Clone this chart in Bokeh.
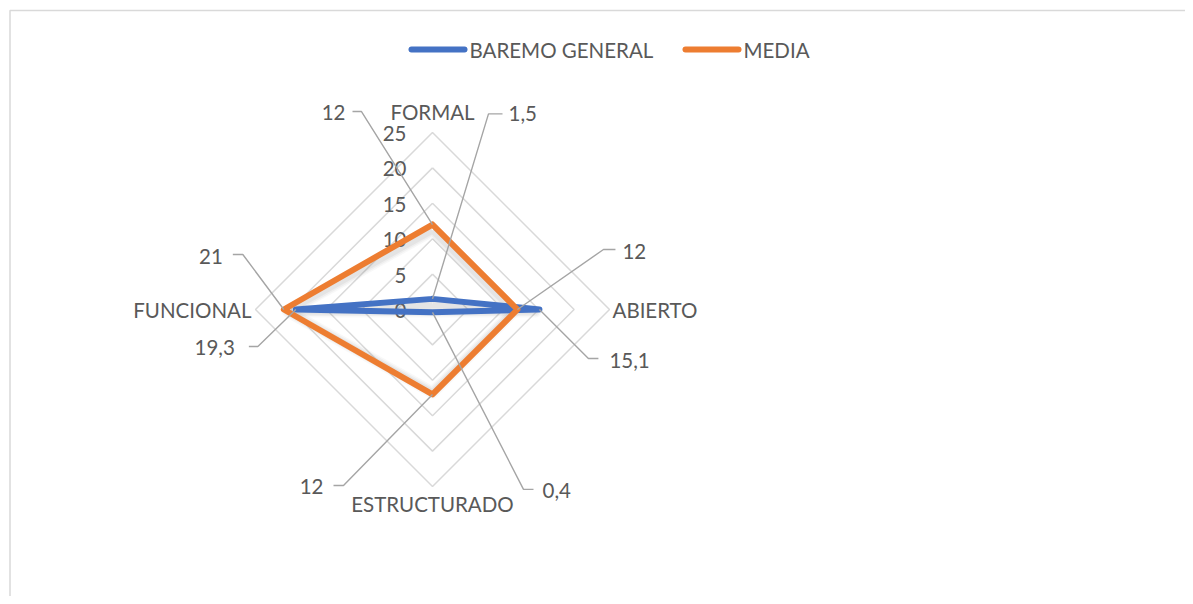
import numpy as np
from bokeh.plotting import figure
from bokeh.models import Range1d, ColumnDataSource
from bokeh.embed import file_html
from bokeh.resources import INLINE
from bokeh.core.properties import value

# ---------------- data ----------------
categories = ["FORMAL", "ABIERTO", "ESTRUCTURADO", "FUNCIONAL"]
series_names = ["BAREMO GENERAL", "MEDIA"]
baremo_general = [1.5, 15.1, 0.4, 19.3]
media = [12, 12, 12, 21]
baremo_labels = ["1,5", "15,1", "0,4", "19,3"]
media_labels = ["12", "12", "12", "21"]
ticks = [0, 5, 10, 15, 20, 25]
tick_labels = ["0", "5", "10", "15", "20", "25"]

# ---------------- layout / style ----------------
W, H = 1185, 596
ORIGIN = 0                 # page pixel where the figure starts
CX, CY = 432, 309          # centre of radar (page pixels)
RMAX = 25
R = 177.0 / RMAX           # pixels per unit
FONT = value("Lato")
FS = "20.5px"
TXT = "#595959"
BLUE = "#4472C4"
ORANGE = "#ED7D31"
GRID = "#D9D9D9"
LEADER = "#A5A5A5"

def X(ix):
    return (ix - CX) / R

def Y(iy):
    return (CY - iy) / R

p = figure(width=W, height=H,
           x_range=Range1d(X(ORIGIN), X(ORIGIN + W)), y_range=Range1d(Y(ORIGIN + H), Y(ORIGIN)),
           output_backend="svg", toolbar_location=None, min_border=0,
           x_axis_location=None, y_axis_location=None)
p.grid.visible = False
p.outline_line_color = None
p.background_fill_color = "white"
p.border_fill_color = "white"

# chart border (top and left visible)
p.line([X(9.5), X(9.5), X(1300)], [Y(800), Y(10), Y(10)], line_color=GRID, line_width=1.5)

ang = np.pi / 2 - np.arange(len(categories)) * 2 * np.pi / len(categories)
ux = np.round(np.cos(ang), 12)
uy = np.round(np.sin(ang), 12)

def closed(vals, shrink_px=0.0):
    r = np.maximum(np.array(vals, dtype=float) - shrink_px / R, 0)
    xs = list(r * ux) + [r[0] * ux[0]]
    ys = list(r * uy) + [r[0] * uy[0]]
    return xs, ys

# grid rings
for t in ticks[1:]:
    xs, ys = closed([t] * len(categories))
    p.line(xs, ys, line_color=GRID, line_width=1.5)

# tick labels along the FORMAL axis
p.text(x=[0] * len(ticks), y=ticks, text=tick_labels, x_offset=-26, y_offset=1,
       text_align="right", text_baseline="middle", text_font=FONT,
       text_font_size=FS, text_color=TXT)

# category labels
cat_off_x = [0, 3, 0, -4]
cat_off_y = [-21, 0, 17, 0]
cat_align = ["center", "left", "center", "right"]
src_cat = ColumnDataSource(dict(x=list(RMAX * ux), y=list(RMAX * uy), t=categories,
                                xo=cat_off_x, yo=cat_off_y, al=cat_align))
p.text(x="x", y="y", text="t", x_offset="xo", y_offset="yo", text_align="al",
       text_baseline="middle", text_font=FONT, text_font_size=FS, text_color=TXT,
       source=src_cat)

# shadows (soft grey, slightly inside)
for vals in (baremo_general, media):
    for w, a in ((12, 0.05), (9, 0.07), (6, 0.09)):
        xs, ys = closed(vals, shrink_px=4)
        ys = [y - 2 / R for y in ys]
        p.line(xs, ys, line_color="#7F7F7F", line_alpha=a, line_width=w, line_join="round")

# series
for vals, col in ((baremo_general, BLUE), (media, ORANGE)):
    xs, ys = closed(vals)
    p.line(xs, ys, line_color=col, line_width=6, line_join="round", line_cap="round")

# data labels with leader lines (elbow offset, horizontal run, text offset in px)
lab_series = [baremo_general, media]
lab_texts = [baremo_labels, media_labels]
elbow = [
    [(56, -185, 14, 76, -185, "left"), (49, 49, 10, 70, 51, "left"),
     (91, 177, 10, 110, 178, "left"), (-38, 37, -9, -61, 38, "right")],
    [(-71, -113, -9, -87, -112, "right"), (86, -60, 12, 105, -58, "left"),
     (-89, 91, -10, -109, 92, "right"), (-41, -55, -10, -61, -53, "right")],
]
for vals, texts, geo in zip(lab_series, lab_texts, elbow):
    lx, ly, tx, ty, tt, ta = [], [], [], [], [], []
    for v, t, ux_, uy_, g in zip(vals, texts, ux, uy, geo):
        ex, ey, hx, txo, tyo, al = g
        px0, py0 = v * ux_, v * uy_
        lx.append([px0, px0 + ex / R, px0 + (ex + hx) / R])
        ly.append([py0, py0 - ey / R, py0 - ey / R])
        tx.append(px0 + txo / R)
        ty.append(py0 - tyo / R)
        tt.append(t)
        ta.append(al)
    p.multi_line(lx, ly, line_color=LEADER, line_width=1.4)
    p.text(x=tx, y=ty, text=tt, text_align=ta, text_baseline="middle",
           text_font=FONT, text_font_size=FS, text_color=TXT)

# legend
leg_x = [(411, 464, 469), (685, 738, 743)]
for name, col, (a, b, c) in zip(series_names, (BLUE, ORANGE), leg_x):
    p.line([X(a), X(b)], [Y(49), Y(49)], line_color=col, line_width=6, line_cap="round")
    p.text(x=[X(c)], y=[Y(49)], text=[name], text_align="left", text_baseline="middle",
           text_font=FONT, text_font_size=FS, text_color=TXT)

open("out.html", "w").write(file_html(p, INLINE))
